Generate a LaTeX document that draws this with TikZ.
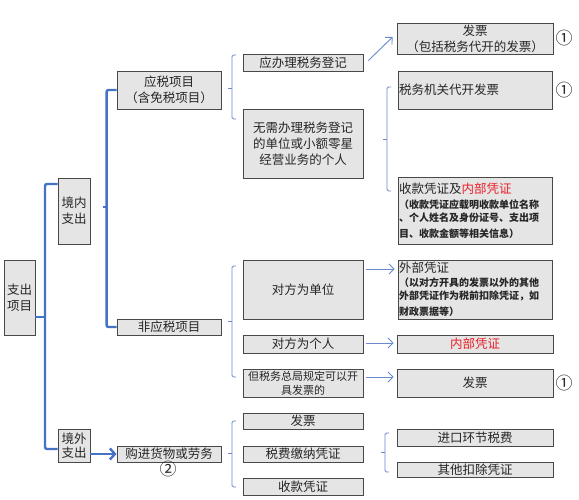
\documentclass[tikz,border=0pt]{standalone}
\usepackage{fontspec}
\setmainfont{Noto Sans CJK SC}
\usetikzlibrary{arrows.meta}
\definecolor{boxfill}{RGB}{229,229,229}
\definecolor{boxline}{RGB}{72,72,72}
\definecolor{thickblue}{RGB}{68,114,196}
\definecolor{thinblue}{RGB}{105,138,205}
\definecolor{redtxt}{RGB}{235,30,40}
\tikzset{
  box/.style={draw=boxline, fill=boxfill, line width=0.9pt, inner sep=1pt, align=center,
    font=\fontsize{12.5}{16}\selectfont, text=black!85},
  lbox/.style={box, align=left, text width=152pt},
  thickbr/.style={draw=thickblue, line width=2.4pt, rounded corners=2pt},
  thinbr/.style={draw=thinblue, line width=0.9pt, rounded corners=1.5pt},
  thinarr/.style={draw=thinblue, line width=0.9pt, -{Straight Barb[length=5pt,width=10pt]}},
  thickarr/.style={draw=thickblue, line width=2.4pt, -{Straight Barb[length=5pt,width=11pt]}},
  circ/.style={font=\fontsize{17}{17}\selectfont, inner sep=0pt, text=black!85},
}
\begin{document}
\begin{tikzpicture}[x=1pt, y=-1pt]
\useasboundingbox (0,0) rectangle (579,500);
\fill[white] (0,0) rectangle (579,500);

% level 0 / 1
\node[box, minimum width=31pt, minimum height=75pt] (zc) at (19.5,297.5) {支出\\项目};
\node[box, minimum width=32pt, minimum height=66pt] (jn) at (74,211) {境内\\支出};
\node[box, minimum width=32pt, minimum height=33pt, font=\fontsize{12.5}{14}\selectfont] (jw) at (74,445.5) {境外\\支出};

% level 2
\node[box, minimum width=104pt, minimum height=38pt] (ys) at (169,90) {应税项目\\（含免税项目）};
\node[box, minimum width=104pt, minimum height=16pt] (fys) at (169,327) {非应税项目};
\node[box, minimum width=104pt, minimum height=16pt] (gj) at (169,454) {购进货物或劳务};
\node[circ] (c2) at (168,469) {②};

% level 3
\node[box, minimum width=120pt, minimum height=17pt] (dj) at (303,62.5) {应办理税务登记};
\node[box, minimum width=120pt, minimum height=69pt] (wx) at (303,143.5) {无需办理税务登记\\的单位或小额零星\\经营业务的个人};
\node[box, minimum width=120pt, minimum height=59pt] (dw) at (303,289.5) {对方为单位};
\node[box, minimum width=120pt, minimum height=18pt] (dg) at (303,344) {对方为个人};
\node[box, minimum width=120pt, minimum height=28pt, font=\fontsize{11}{14}\selectfont] (dsw) at (303,383) {但税务总局规定可以开\\具发票的};
\node[box, minimum width=120pt, minimum height=16pt] (fp2) at (303,421) {发票};
\node[box, minimum width=120pt, minimum height=16pt] (sf) at (303,454) {税费缴纳凭证};
\node[box, minimum width=120pt, minimum height=17pt] (sk) at (303,486.5) {收款凭证};

% level 4
\node[box, minimum width=156pt, minimum height=31pt] (r1) at (475,38.5) {发票\\（包括税务代开的发票）};
\node[lbox, minimum height=38pt] (r2) at (475,90) {税务机关代开发票};
\node[lbox, minimum height=67pt] (r3) at (475,210.5) {收款凭证及\textcolor{redtxt}{内部凭证}\\[3pt]
  {\bfseries\fontsize{10}{12.5}\selectfont （收款凭证应载明收款单位名称\\、个人姓名及身份证号、支出项\\目、收款金额等相关信息）}};
\node[lbox, minimum height=59pt] (r4) at (475,289.5) {外部凭证\\[1pt]
  {\bfseries\fontsize{10}{13}\selectfont （以对方开具的发票以外的其他\\外部凭证作为税前扣除凭证，如\\财政票据等）}};
\node[box, minimum width=156pt, minimum height=18pt, text=redtxt] (r5) at (475,344) {内部凭证};
\node[box, minimum width=156pt, minimum height=28pt] (r6) at (475,383) {发票};
\node[box, minimum width=156pt, minimum height=17pt] (r7) at (475,437.5) {进口环节税费};
\node[box, minimum width=156pt, minimum height=15pt] (r8) at (475,469.5) {其他扣除凭证};

\node[circ] (c1a) at (564,38) {①};
\node[circ] (c1b) at (564,90) {①};
\node[circ] (c1c) at (564,383) {①};

% thick brackets
\draw[thickbr] (jn.west |- 0,184) -- (45,184) -- (45,449) -- (jw.west |- 0,449);
\draw[thickblue, line width=2.4pt] (zc.east |- 0,317) -- (45,317);
\draw[thickbr] (ys.west) -- ++(-10,0) |- (fys.west);
\draw[thickblue, line width=2.4pt] (103,207) -- (107,207);
\draw[thickarr] (jw.east |- gj.west) -- (gj.west);

% thin brackets
\draw[thinbr] (236,55) -- (232,55) -- (232,119) -- (236,119);
\draw[thinblue, line width=0.9pt] (228,88) -- (232,88);
\draw[thinbr] (236,266) -- (232,266) -- (232,377) -- (236,377);
\draw[thinblue, line width=0.9pt] (228,321) -- (232,321);
\draw[thinbr] (236,421) -- (232,421) -- (232,487) -- (236,487);
\draw[thinblue, line width=0.9pt] (228,453) -- (232,453);
\draw[thinbr] (391,87) -- (387,87) -- (387,191) -- (391,191);
\draw[thinblue, line width=0.9pt] (383,139) -- (387,139);
\draw[thinbr] (389,433) -- (385,433) -- (385,472) -- (389,472);
\draw[thinblue, line width=0.9pt] (381,452) -- (385,452);

% arrows
\draw[thinarr] ([xshift=5pt,yshift=2pt]dj.east) -- ([xshift=-4pt,yshift=1.5pt]r1.west);
\draw[thinarr] ([xshift=3pt,yshift=20.5pt]dw.east) -- ([xshift=-3pt,yshift=20.5pt]r4.west);
\draw[thinarr] ([xshift=3pt,yshift=1pt]dg.east) -- ([xshift=-3pt,yshift=1pt]r5.west);
\draw[thinarr] ([xshift=3pt,yshift=6pt]dsw.east) -- ([xshift=-3pt,yshift=6pt]r6.west);
\end{tikzpicture}
\end{document}
